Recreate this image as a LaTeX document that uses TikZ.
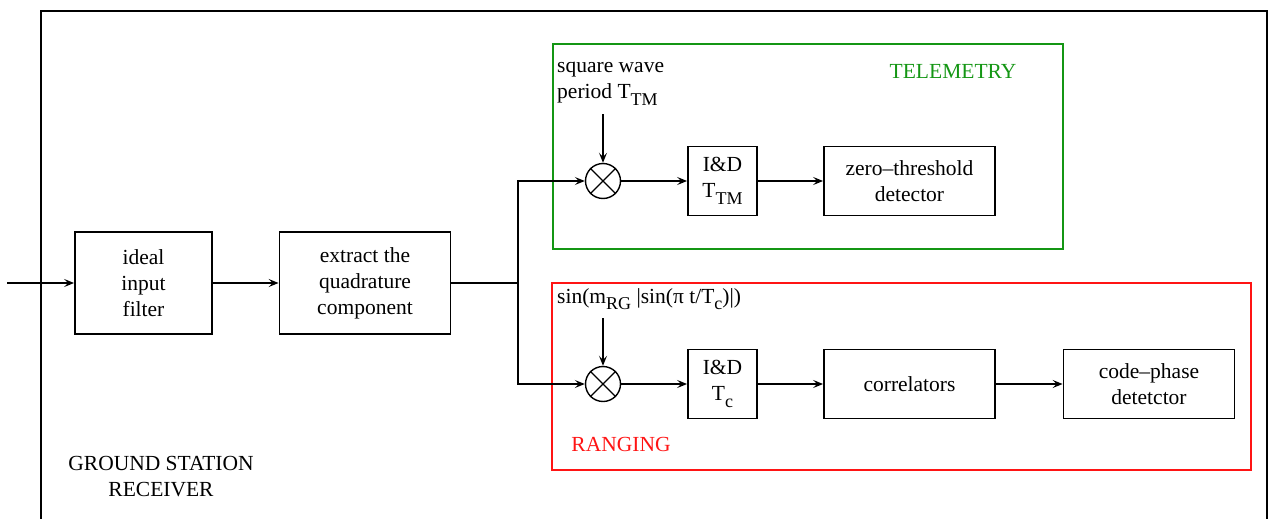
\documentclass[tikz,border=0pt]{standalone}
\usepackage{fontspec}
\setmainfont{Liberation Serif}
\usetikzlibrary{arrows.meta}
\definecolor{tmgreen}{RGB}{20,150,20}
\definecolor{rgred}{RGB}{255,20,20}
\newcommand\lowsub[1]{\raisebox{-0.32em}{\fontsize{18}{18}\selectfont #1}}
\begin{document}
\begin{tikzpicture}[x=1pt,y=-1pt,font=\fontsize{21.5}{26}\selectfont,
  blk/.style={draw,line width=1.8pt,inner sep=0pt,align=center},
  mixer/.style={draw,circle,line width=1.4pt,minimum size=35pt,inner sep=0pt},
  conn/.style={line width=1.7pt},
  arr/.style={conn,-{Stealth[length=10pt,width=8pt,inset=4pt]}},
  frame/.style={line width=2pt}]
\useasboundingbox (0,0) rectangle (1272,519);
% outer frame (open at the bottom)
\draw[frame] (41,519) -- (41,11) -- (1267,11) -- (1267,519);
% group frames
\draw[tmgreen,line width=1.8pt] (553,44) rectangle (1063,249);
\draw[rgred,line width=1.8pt] (552,283) rectangle (1251,470);
\node[tmgreen] (tmlabel) at (953,71) {TELEMETRY};
\node[rgred] (rglabel) at (621,444) {RANGING};
\node[align=center] (gsr) at (161,477) {GROUND STATION\\RECEIVER};
% blocks
\node[blk,minimum width=137pt,minimum height=102pt] (filt) at (143.5,283) {ideal\\input\\filter};
\node[blk,minimum width=171pt,minimum height=102pt] (ext) at (365,283) {extract the\\quadrature\\component};
\node[mixer] (mtm) at (603,181) {};
\node[mixer] (mrg) at (603,384) {};
\node[blk,minimum width=69pt,minimum height=69pt] (idtm) at (722.5,181) {I\&D\\T\lowsub{TM}};
\node[blk,minimum width=171pt,minimum height=69pt] (zero) at (909.5,181) {zero--threshold\\detector};
\node[blk,minimum width=69pt,minimum height=69pt] (idrg) at (722.5,384) {I\&D\\T\lowsub{c}};
\node[blk,minimum width=171pt,minimum height=69pt] (corr) at (909.5,384) {correlators};
\node[blk,minimum width=171pt,minimum height=69pt] (cpd) at (1149,384) {code--phase\\detetctor};
% mixer crosses
\foreach \m in {mtm,mrg}{
  \draw[line width=1.2pt] (\m.45) -- (\m.225);
  \draw[line width=1.2pt] (\m.135) -- (\m.315);
}
% reference labels
\node[anchor=north west,align=left,inner sep=0pt] (sqlab) at (557,62) {square wave\\period T\lowsub{TM}};
\node[anchor=north west,inner sep=0pt] (sinlab) at (557,288) {sin(m\lowsub{RG} |sin(π t/T\lowsub{c})|)};
% connectors
\coordinate (in) at (7,283);
\coordinate (br) at (518,283);
\coordinate (sqend) at (603,114);
\coordinate (sinend) at (603,318);
\draw[arr] (in) -- (filt.west);
\draw[arr] (filt.east) -- (ext.west);
\draw[conn] (ext.east) -- (br);
\draw[arr] (br) |- (mtm.west);
\draw[arr] (br) |- (mrg.west);
\draw[arr] (sqend) -- (mtm.north);
\draw[arr] (sinend) -- (mrg.north);
\draw[arr] (mtm.east) -- (idtm.west);
\draw[arr] (idtm.east) -- (zero.west);
\draw[arr] (mrg.east) -- (idrg.west);
\draw[arr] (idrg.east) -- (corr.west);
\draw[arr] (corr.east) -- (cpd.west);
\end{tikzpicture}
\end{document}
